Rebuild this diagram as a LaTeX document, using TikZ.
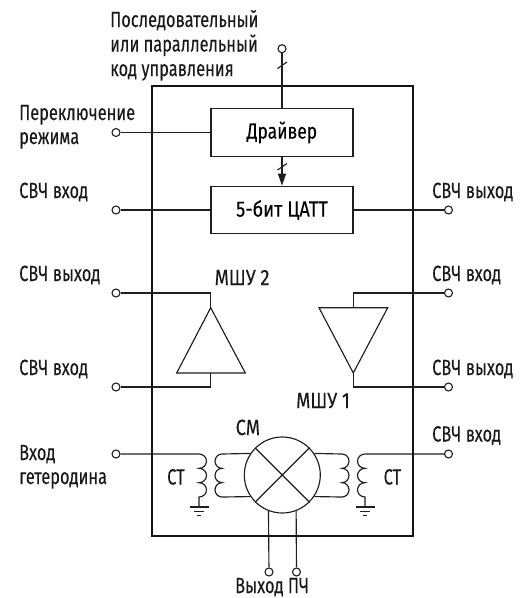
\documentclass[tikz,border=0pt]{standalone}
\usepackage{fontspec}
\setmainfont[FakeStretch=0.745,FakeBold=0.12]{Fira Sans}
\newfontfamily\widef[FakeStretch=0.83,FakeBold=0.12]{Fira Sans}
\newfontfamily\midf[FakeStretch=0.79,FakeBold=0.12]{Fira Sans}
\usetikzlibrary{arrows.meta}
\tikzset{
  line/.style={draw=black!88,line width=1.15pt},
  frame/.style={draw=black!92,line width=2.5pt},
  block/.style={line,fill=white,minimum width=142pt,minimum height=47.5pt,inner sep=0pt,font=\fontsize{22}{22}\selectfont},
  term/.style={circle,draw=black!88,line width=1.1pt,fill=white,minimum size=8pt,inner sep=0pt},
  lbl/.style={anchor=base west,inner sep=0pt,font=\fontsize{22}{22}\selectfont,text=black!90},
  lblw/.style={lbl,font=\fontsize{22}{22}\selectfont\widef},
}
\begin{document}
\begin{tikzpicture}[x=1pt,y=-1pt]
\useasboundingbox (0,0) rectangle (526,598);
\draw[frame] (152,86) rectangle (413,536);
% blocks
\node[block] (drv) at (282,132.5) {\midf Драйвер};
\node[block] (dac) at (282,210) {\widef 5-бит ЦАТТ};
% terminals
\node[term] (tc) at (282,48.7) {};
\node[term] (tm) at (116,132.5) {};
\node[term] (tl1) at (116,210) {};
\node[term] (tr1) at (448.5,210) {};
\node[term] (tl2) at (116,293) {};
\node[term] (tl3) at (116,387) {};
\node[term] (tr2) at (448.5,293) {};
\node[term] (tr3) at (448.5,387) {};
\node[term] (tl4) at (116,454) {};
\node[term] (tr4) at (448.5,454) {};
\node[term] (tb1) at (269,572) {};
\node[term] (tb2) at (296.5,572) {};
% mixer
\node[circle,line,minimum size=76pt,inner sep=0pt] (mix) at (282.3,475) {};
\draw[line] (mix.45) -- (mix.225) (mix.135) -- (mix.315);
% block connectors
\draw[line] (tc) -- (drv);
\draw[line] (tm) -- (drv);
\draw[line] (tl1) -- (dac);
\draw[line] (dac) -- (tr1);
\draw[line,-{Triangle[length=12pt,width=8pt]}] (drv) -- (dac);
\coordinate (s1a) at (277.5,68.5); \coordinate (s1b) at (287,62);
\coordinate (s2a) at (277.5,170); \coordinate (s2b) at (287,163.5);
\draw[line] (s1a) -- (s1b) (s2a) -- (s2b);
% amplifiers
\coordinate (a2t) at (210.7,307.7);
\coordinate (a2l) at (176.7,373);
\coordinate (a2r) at (245.3,373);
\coordinate (a2c) at (210.7,373);
\draw[line,line join=miter] (a2t) -- (a2r) -- (a2l) -- cycle;
\draw[line] (tl2) -| (a2t);
\draw[line] (tl3) -| (a2c);
\coordinate (a1b) at (353.3,373);
\coordinate (a1l) at (319,307.7);
\coordinate (a1r) at (387.7,307.7);
\coordinate (a1c) at (353.3,307.7);
\draw[line,line join=miter] (a1b) -- (a1r) -- (a1l) -- cycle;
\draw[line] (tr2) -| (a1c);
\draw[line] (tr3) -| (a1b);
% transformer left
\coordinate (lp) at (199,454);
\coordinate (ls) at (222,454);
\draw[line] (tl4) -- (lp)
  arc[start angle=-90,end angle=90,x radius=7.5,y radius=7.17]
  arc[start angle=-90,end angle=90,x radius=7.5,y radius=7.17]
  arc[start angle=-90,end angle=90,x radius=7.5,y radius=7.17]
  -- ++(0,10) coordinate (gl);
\draw[line] (mix.146) -- (ls)
  arc[start angle=-90,end angle=-270,x radius=7,y radius=7.17]
  arc[start angle=-90,end angle=-270,x radius=7,y radius=7.17]
  arc[start angle=-90,end angle=-270,x radius=7,y radius=7.17]
  -- (mix.214);
\draw[line] (gl) ++(-9.5,0) -- ++(19,0) (gl) ++(-5,4.5) -- ++(10,0) (gl) ++(-2,8.7) -- ++(4,0);
% transformer right
\coordinate (rp) at (365,454);
\coordinate (rs) at (342,454);
\draw[line] (tr4) -- (rp)
  arc[start angle=-90,end angle=-270,x radius=7.5,y radius=7.17]
  arc[start angle=-90,end angle=-270,x radius=7.5,y radius=7.17]
  arc[start angle=-90,end angle=-270,x radius=7.5,y radius=7.17]
  -- ++(0,10) coordinate (gr);
\draw[line] (mix.34) -- (rs)
  arc[start angle=-90,end angle=90,x radius=7,y radius=7.17]
  arc[start angle=-90,end angle=90,x radius=7,y radius=7.17]
  arc[start angle=-90,end angle=90,x radius=7,y radius=7.17]
  -- (mix.326);
\draw[line] (gr) ++(-9.5,0) -- ++(19,0) (gr) ++(-5,4.5) -- ++(10,0) (gr) ++(-2,8.7) -- ++(4,0);
% mixer outputs
\draw[line] (tb1) -- (mix.249.5);
\draw[line] (tb2) -- (mix.291.95);
% labels
\node[lbl] (t1) at (110,27) {Последовательный};
\node[lbl] (t2) at (110,51.5) {или параллельный};
\node[lbl] (t3) at (110,76) {код управления};
\node[lbl] (t4) at (19,120) {Переключение};
\node[lbl] (t5) at (19,144) {режима};
\node[lbl] (t6) at (19,198) {СВЧ вход};
\node[lbl] (t7) at (432,198) {СВЧ выход};
\node[lbl] (t8) at (19,281) {СВЧ выход};
\node[lbl] (t9) at (432,281) {СВЧ вход};
\node[lbl] (t10) at (19,375) {СВЧ вход};
\node[lbl] (t11) at (432,375) {СВЧ выход};
\node[lblw] (t12) at (214.5,285) {МШУ 2};
\node[lblw] (t13) at (296,408) {МШУ 1};
\node[lbl] (t14) at (19,460) {Вход};
\node[lbl] (t15) at (19,484) {гетеродина};
\node[lblw] (t16) at (235.5,435) {СМ};
\node[lbl] (t17) at (167,484.5) {СТ};
\node[lbl] (t18) at (383.5,484.5) {СТ};
\node[lbl] (t19) at (432,441.5) {СВЧ вход};
\node[lbl] (t20) at (235,593) {Выход ПЧ};
\end{tikzpicture}
\end{document}
